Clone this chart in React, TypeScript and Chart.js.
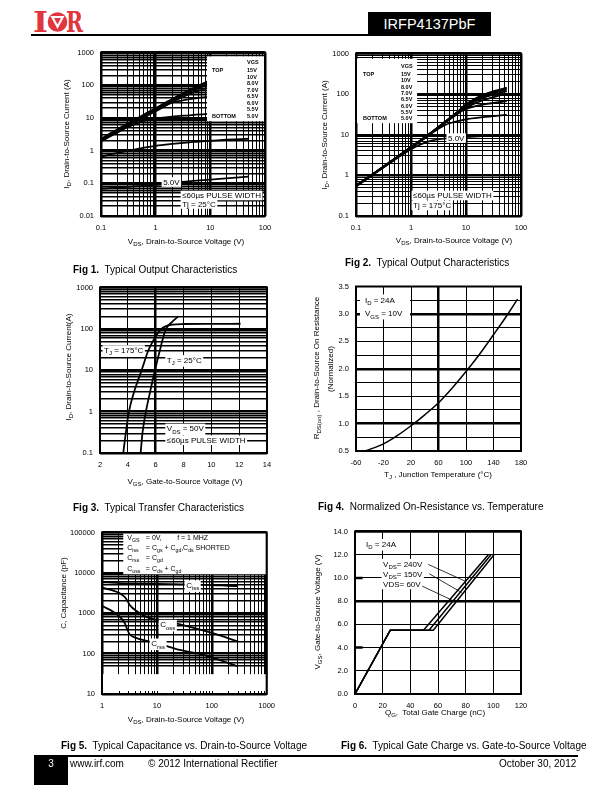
import React, { useEffect, useRef } from 'react';
import { Chart, registerables } from 'chart.js';

Chart.register(...registerables);

const FONT = "'Liberation Sans', Arial, Helvetica, sans-serif";
const RED = '#e2363f';

// ---------------- Fig 1 : Typical Output Characteristics, Tj = 25°C ----------------
const fig1XLabels = ['0.1', '1', '10', '100'];
const fig1YLabels = ['0.01', '0.1', '1', '10', '100', '1000'];
const vgsLabels = ['15V', '10V', '8.0V', '7.0V', '6.5V', '6.0V', '5.5V', '5.0V'];
const fig1_15V = [[0.1, 2.3], [0.2, 4.5], [0.5, 10.5], [1, 20], [2, 38], [4, 70], [8, 120], [20, 250], [50, 450]];
const fig1_10V = [[0.1, 2.2], [0.2, 4.3], [0.5, 10], [1, 19], [2, 36], [4, 66], [8, 110], [20, 210], [50, 350]];
const fig1_8V = [[0.1, 2.1], [0.2, 4.1], [0.5, 9.5], [1, 18], [2, 34], [4, 60], [8, 97], [20, 160], [50, 230]];
const fig1_7V = [[0.1, 2.0], [0.2, 3.9], [0.5, 9.0], [1, 17], [2, 31], [4, 52], [8, 78], [20, 105], [50, 125]];
const fig1_6V5 = [[0.1, 1.95], [0.2, 3.8], [0.5, 8.7], [1, 16], [2, 29], [3, 34], [5, 39], [8, 43], [20, 48], [50, 52]];
const fig1_6V = [[0.1, 1.9], [0.2, 3.6], [0.3, 5.1], [0.5, 7.3], [0.7, 8.6], [1, 9.6], [2, 11], [4, 12], [8, 13], [20, 14], [50, 15]];
const fig1_5V5 = [[0.1, 0.66], [0.2, 0.85], [0.5, 1.15], [1, 1.4], [2, 1.6], [5, 1.85], [10, 2.0], [20, 2.15], [50, 2.3]];
const fig1_5V = [[0.1, 0.068], [0.3, 0.078], [1, 0.09], [3, 0.11], [10, 0.13], [30, 0.15], [50, 0.16]];

// ---------------- Fig 2 : Typical Output Characteristics, Tj = 175°C ----------------
const fig2XLabels = ['0.1', '1', '10', '100'];
const fig2YLabels = ['0.1', '1', '10', '100', '1000'];
const fig2_15V = [[0.1, 0.56], [0.2, 1.07], [0.5, 2.55], [1, 5.0], [2, 9.7], [4, 20], [7, 37], [10, 56], [20, 96], [55, 145]];
const fig2_10V = [[0.1, 0.56], [0.2, 1.07], [0.5, 2.55], [1, 5.0], [2, 9.7], [4, 20], [7, 36], [10, 55], [20, 92], [55, 138]];
const fig2_8V = [[0.1, 0.55], [0.2, 1.06], [0.5, 2.5], [1, 4.9], [2, 9.6], [4, 19.8], [7, 35], [10, 53], [20, 87], [55, 130]];
const fig2_7V = [[0.1, 0.55], [0.2, 1.05], [0.5, 2.5], [1, 4.9], [2, 9.5], [4, 19.5], [7, 34], [10, 50], [20, 80], [55, 120]];
const fig2_6V5 = [[0.1, 0.55], [0.2, 1.05], [0.5, 2.5], [1, 4.9], [2, 9.5], [4, 19.3], [7, 33], [10, 46], [20, 70], [55, 105]];
const fig2_6V = [[0.1, 0.54], [0.2, 1.04], [0.5, 2.5], [1, 4.8], [2, 9.4], [4, 19], [6, 28], [8, 37], [10, 43], [20, 55], [55, 67]];
const fig2_5V5 = [[0.1, 0.54], [0.2, 1.04], [0.5, 2.45], [1, 4.7], [2, 9.2], [3, 13.5], [4, 17], [6, 20.5], [10, 24], [20, 27], [55, 31]];
const fig2_5V = [[0.1, 0.53], [0.2, 1.02], [0.5, 2.4], [1, 4.4], [1.5, 5.8], [2.2, 7], [4, 8], [10, 8.7], [20, 9.2], [55, 9.8]];

// ---------------- Fig 3 : Typical Transfer Characteristics ----------------
const fig3XLabels = ['2', '4', '6', '8', '10', '12', '14'];
const fig3YLabels = ['0.1', '1', '10', '100', '1000'];
const fig3_Tj175 = [[3.67, 0.1], [3.85, 0.3], [4.08, 1], [4.45, 3], [4.99, 10], [5.47, 30], [5.8, 50], [6.05, 70], [6.35, 95], [6.7, 115], [7.2, 127], [8, 131], [10, 132], [12.1, 133]];
const fig3_Tj25 = [[4.92, 0.1], [5.05, 0.3], [5.3, 1], [5.6, 3], [5.95, 10], [6.3, 30], [6.5, 55], [6.74, 100], [7.2, 150], [7.62, 200]];

// ---------------- Fig 4 : Normalized On-Resistance vs. Temperature ----------------
const fig4XLabels = ['-60', '-20', '20', '60', '100', '140', '180'];
const fig4YLabels = ['0.5', '1.0', '1.5', '2.0', '2.5', '3.0', '3.5'];
const fig4Temp = [-47, -40, -20, 0, 20, 40, 60, 80, 100, 120, 140, 160, 175];
const fig4Rds = [0.5, 0.53, 0.63, 0.78, 0.96, 1.16, 1.38, 1.65, 1.95, 2.27, 2.62, 2.98, 3.27];

// ---------------- Fig 5 : Typical Capacitance vs. VDS ----------------
const fig5XLabels = ['1', '10', '100', '1000'];
const fig5YLabels = ['10', '100', '1000', '10000', '100000'];
const fig5Ciss = [[1, 5900], [2, 5600], [5, 5400], [10, 5300], [30, 5200], [100, 5000], [200, 4800], [300, 4700]];
const fig5Coss = [[1, 4300], [2, 3250], [2.65, 2450], [3.27, 1540], [4.33, 1120], [6.6, 800], [11.5, 660], [26.5, 530], [100, 325], [300, 200]];
const fig5Crss = [[1, 1540], [2, 877], [2.55, 600], [2.85, 415], [3.18, 302], [4.04, 250], [6.6, 207], [11.5, 172], [26.5, 123], [61, 98], [100, 81], [300, 48]];

// ---------------- Fig 6 : Typical Gate Charge ----------------
const fig6XLabels = ['0', '20', '40', '60', '80', '100', '120'];
const fig6YLabels = ['0.0', '2.0', '4.0', '6.0', '8.0', '10.0', '12.0', '14.0'];
const fig6_60V = [[0, 0], [25.5, 5.5], [49.5, 5.5], [96.4, 12]];
const fig6_150V = [[0, 0], [25.5, 5.5], [53.5, 5.5], [98.3, 12]];
const fig6_240V = [[0, 0], [25.5, 5.5], [56.6, 5.5], [100.5, 12]];

// ---------------- layout ----------------
const Y_W = 45;
const X_H = 22;
const PAD_T = 10;
const PAD_R = 15;
const P1 = { l: 101, t: 51, r: 265, b: 216 };
const P2 = { l: 356, t: 52, r: 521, b: 216 };
const P3 = { l: 100, t: 286, r: 267, b: 453 };
const P4 = { l: 356, t: 285, r: 521, b: 451 };
const P5 = { l: 102, t: 531, r: 267, b: 694 };
const P6 = { l: 355, t: 530, r: 521, b: 694 };

// ---------------- helpers ----------------
function parseRich(s: string) {
  const out: { t: string; sub: boolean; w?: number }[] = [];
  const re = /_\{([^}]*)\}/g;
  let last = 0;
  let m: RegExpExecArray | null;
  while ((m = re.exec(s))) {
    if (m.index > last) out.push({ t: s.slice(last, m.index), sub: false });
    out.push({ t: m[1], sub: true });
    last = re.lastIndex;
  }
  if (last < s.length) out.push({ t: s.slice(last), sub: false });
  return out;
}

function Rich({ s }: { s: string }) {
  return (
    <>
      {parseRich(s).map((seg, i) =>
        seg.sub ? (
          <span key={i} style={{ fontSize: '0.75em', position: 'relative', top: '0.3em' }}>{seg.t}</span>
        ) : (
          <span key={i}>{seg.t}</span>
        )
      )}
    </>
  );
}

function drawRich(ctx: CanvasRenderingContext2D, s: string, x: number, y: number, size: number, bold: boolean, align: string, bg: boolean) {
  const segs = parseRich(s);
  const fontOf = (sub: boolean) => `${bold ? 'bold ' : ''}${sub ? size * 0.75 : size}px ${FONT}`;
  let w = 0;
  for (const seg of segs) {
    ctx.font = fontOf(seg.sub);
    seg.w = ctx.measureText(seg.t).width;
    w += seg.w;
  }
  const x0 = align === 'center' ? x - w / 2 : align === 'right' ? x - w : x;
  const hasSub = segs.some((g) => g.sub);
  if (bg) {
    ctx.fillStyle = '#fff';
    ctx.fillRect(x0 - 1.5, y - size * 0.6, w + 3, size * (hasSub ? 1.45 : 1.2));
  }
  ctx.fillStyle = '#000';
  ctx.textBaseline = 'alphabetic';
  ctx.textAlign = 'left';
  const base = y + size * 0.36;
  let cx = x0;
  for (const seg of segs) {
    ctx.font = fontOf(seg.sub);
    ctx.fillText(seg.t, cx, base + (seg.sub ? size * 0.3 : 0));
    cx += seg.w || 0;
  }
}

function drawItems(chart: any, items: any[]) {
  const ctx: CanvasRenderingContext2D = chart.ctx;
  const xs = chart.scales.x;
  const ys = chart.scales.y;
  const a = chart.chartArea;
  const px = (v: number) => xs.getPixelForValue(v);
  const py = (v: number) => ys.getPixelForValue(v);
  ctx.save();
  ctx.beginPath();
  ctx.rect(a.left, a.top, a.right - a.left, a.bottom - a.top);
  ctx.clip();
  for (const it of items) {
    if (it.kind === 'box') {
      const x0 = px(it.x0), x1 = px(it.x1), y0 = py(it.y0), y1 = py(it.y1);
      ctx.fillStyle = '#fff';
      ctx.fillRect(Math.min(x0, x1), Math.min(y0, y1), Math.abs(x1 - x0), Math.abs(y1 - y0));
    } else if (it.kind === 'line') {
      ctx.strokeStyle = '#000';
      ctx.lineWidth = it.w ?? 1;
      ctx.beginPath();
      ctx.moveTo(px(it.x0), py(it.y0));
      ctx.lineTo(px(it.x1), py(it.y1));
      ctx.stroke();
    } else if (it.kind === 'text') {
      drawRich(ctx, it.text, px(it.x) + (it.dx || 0), py(it.y) + (it.dy || 0), it.size ?? 8, !!it.bold, it.align ?? 'left', !!it.bg);
    } else if (it.kind === 'vticks') {
      ctx.strokeStyle = '#000';
      ctx.lineWidth = 1;
      for (const v of it.xs) {
        const x = Math.round(px(v)) + 0.5;
        ctx.beginPath();
        ctx.moveTo(x, a.bottom);
        ctx.lineTo(x, a.bottom - it.len);
        ctx.stroke();
      }
    }
  }
  ctx.restore();
}

function annotPlugin(items: any[], under: any[] = []) {
  return {
    id: 'annot',
    beforeDatasetsDraw(chart: any) {
      drawItems(chart, under);
    },
    afterDatasetsDraw(chart: any) {
      drawItems(chart, items);
      const a = chart.chartArea;
      const ctx = chart.ctx;
      ctx.save();
      ctx.strokeStyle = '#000';
      ctx.lineWidth = 2;
      ctx.strokeRect(a.left, a.top, a.right - a.left, a.bottom - a.top);
      ctx.restore();
    },
  };
}

function logTicks(lo: number, hi: number) {
  const out: number[] = [];
  for (let e = lo; e < hi; e++) for (let d = 1; d <= 9; d++) out.push(Number((d * Math.pow(10, e)).toPrecision(4)));
  out.push(Number(Math.pow(10, hi).toPrecision(4)));
  return out;
}
function stepTicks(min: number, max: number, step: number) {
  const out: number[] = [];
  const n = Math.round((max - min) / step);
  for (let i = 0; i <= n; i++) out.push(Number((min + i * step).toFixed(6)));
  return out;
}
const isDecade = (v: number) => Math.abs(Math.log10(v) - Math.round(Math.log10(v))) < 1e-6;
const labelFrom = (labels: string[]) => (v: number) => {
  const hit = labels.find((l) => Math.abs(Number(l) - v) <= 1e-6 * Math.max(1, Math.abs(v)));
  return hit ?? '';
};
const pts = (arr: number[][]) => arr.map(([x, y]) => ({ x, y }));

function axis(o: any) {
  const thin = o.thin ?? 1;
  return {
    type: o.type,
    min: o.min,
    max: o.max,
    afterBuildTicks: (s: any) => {
      s.ticks = o.ticks.map((v: number) => ({ value: v }));
    },
    afterFit: (s: any) => {
      if (o.horizontal) s.height = X_H;
      else s.width = Y_W;
    },
    grid: {
      drawTicks: false,
      color: (c: any) => (c.tick && o.hide && o.hide(c.tick.value) ? 'rgba(0,0,0,0)' : '#000'),
      lineWidth: (c: any) => (c.tick && o.thick(c.tick.value) ? 2.5 : thin),
    },
    border: { display: false },
    ticks: {
      autoSkip: false,
      maxRotation: 0,
      minRotation: 0,
      padding: 7,
      color: '#000',
      font: { family: FONT, size: 7.5 },
      callback: (v: number) => o.label(v),
    },
  };
}

function makeConfig(datasets: any[], x: any, y: any, items: any[], under: any[] = []) {
  return {
    type: 'line',
    data: { datasets },
    options: {
      animation: false,
      responsive: false,
      maintainAspectRatio: false,
      devicePixelRatio: 1,
      events: [],
      layout: { padding: { left: 0, top: PAD_T, right: PAD_R, bottom: 0 } },
      plugins: { legend: { display: false }, tooltip: { enabled: false }, title: { display: false } },
      elements: { point: { radius: 0 } },
      scales: { x: axis({ ...x, horizontal: true }), y: axis({ ...y, horizontal: false }) },
    },
    plugins: [annotPlugin(items, under)],
  } as any;
}

const line = (label: string, data: number[][], w = 1.8, smooth = true) => ({
  label,
  data: pts(data),
  borderColor: '#000',
  borderWidth: w,
  pointRadius: 0,
  fill: false,
  cubicInterpolationMode: smooth ? 'monotone' : 'default',
  tension: 0,
});

function legendItems(ax: number, ay: number, dxL: number, dxV: number, dyHead: number, dy0: number, step: number) {
  const out: any[] = [{ kind: 'text', x: ax, y: ay, dx: dxV, dy: dyHead, text: 'VGS', size: 5.5, bold: true }];
  out.push({ kind: 'text', x: ax, y: ay, dx: dxL, dy: dy0, text: 'TOP', size: 5.5, bold: true });
  vgsLabels.forEach((l, i) => out.push({ kind: 'text', x: ax, y: ay, dx: dxV, dy: dy0 + i * step, text: l, size: 5.5, bold: true }));
  out.push({ kind: 'text', x: ax, y: ay, dx: dxL, dy: dy0 + 7 * step, text: 'BOTTOM', size: 5.5, bold: true });
  return out;
}

// ---------------- chart builders ----------------
const buildFig1 = () =>
  makeConfig(
    [fig1_15V, fig1_10V, fig1_8V, fig1_7V, fig1_6V5, fig1_6V, fig1_5V5, fig1_5V].map((d, i) => line(vgsLabels[i], d, 1.8)),
    { type: 'logarithmic', min: 0.1, max: 100, ticks: logTicks(-1, 2), label: labelFrom(fig1XLabels), thick: isDecade },
    { type: 'logarithmic', min: 0.01, max: 1000, ticks: logTicks(-2, 3), label: labelFrom(fig1YLabels), thick: isDecade, thin: 1.5 },
    [
      { kind: 'box', x0: 8.7, y0: 760, x1: 100, y1: 7.94 },
      ...legendItems(8.7, 760, 5, 40, 6, 13.7, 6.53),
      { kind: 'text', x: 1.37, y: 0.109, text: '5.0V', size: 8, bg: true },
      { kind: 'text', x: 3.05, y: 0.0424, text: '≤60µs PULSE WIDTH', size: 8, bg: true },
      { kind: 'text', x: 3.05, y: 0.0234, text: 'Tj = 25°C', size: 8, bg: true },
    ]
  );

const buildFig2 = () =>
  makeConfig(
    [fig2_15V, fig2_10V, fig2_8V, fig2_7V, fig2_6V5, fig2_6V, fig2_5V5, fig2_5V].map((d, i) => line(vgsLabels[i], d, 1.8)),
    { type: 'logarithmic', min: 0.1, max: 100, ticks: logTicks(-1, 2), label: labelFrom(fig2XLabels), thick: isDecade },
    { type: 'logarithmic', min: 0.1, max: 1000, ticks: logTicks(-1, 3), label: labelFrom(fig2YLabels), thick: isDecade },
    [
      { kind: 'box', x0: 0.1, y0: 742, x1: 1.29, y1: 19.3 },
      ...legendItems(0.1087, 742, 5, 43, 7, 15.3, 6.35),
      { kind: 'text', x: 4.7, y: 8.3, text: '5.0V', size: 8, bg: true },
      { kind: 'text', x: 1.09, y: 0.32, text: '≤60µs PULSE WIDTH', size: 8, bg: true },
      { kind: 'text', x: 1.09, y: 0.182, text: 'Tj = 175°C', size: 8, bg: true },
    ]
  );

const buildFig3 = () =>
  makeConfig(
    [line('TJ = 175°C', fig3_Tj175, 1.8), line('TJ = 25°C', fig3_Tj25, 1.8)],
    { type: 'linear', min: 2, max: 14, ticks: stepTicks(2, 14, 2), label: labelFrom(fig3XLabels), thick: (v: number) => v === 6 },
    { type: 'logarithmic', min: 0.1, max: 1000, ticks: logTicks(-1, 3), label: labelFrom(fig3YLabels), thick: isDecade, thin: 1.5 },
    [
      { kind: 'text', x: 2.29, y: 30.8, text: 'T_{J} = 175°C', size: 8, bg: true },
      { kind: 'text', x: 6.8, y: 17.8, text: 'T_{J} = 25°C', size: 8, bg: true },
      { kind: 'text', x: 6.8, y: 0.393, text: 'V_{DS} = 50V', size: 8, bg: true },
      { kind: 'text', x: 6.8, y: 0.203, text: '≤60µs PULSE WIDTH', size: 8, bg: true },
    ]
  );

const buildFig4 = () =>
  makeConfig(
    [line('RDS(on)', fig4Temp.map((t, i) => [t, fig4Rds[i]]), 1.5)],
    { type: 'linear', min: -60, max: 180, ticks: stepTicks(-60, 180, 40), label: labelFrom(fig4XLabels), thick: (v: number) => v === 60 },
    { type: 'linear', min: 0.5, max: 3.5, ticks: stepTicks(0.5, 3.5, 0.25), label: labelFrom(fig4YLabels), thick: (v: number) => Math.abs(v - Math.round(v)) < 1e-6 },
    [
      { kind: 'box', x0: -54.2, y0: 3.355, x1: 18.7, y1: 2.9 },
      { kind: 'text', x: -47, y: 3.25, text: 'I_{D} = 24A', size: 8 },
      { kind: 'text', x: -47, y: 3.01, text: 'V_{GS} = 10V', size: 8 },
    ]
  );

const buildFig5 = () =>
  makeConfig(
    [line('Ciss', fig5Ciss, 1.8), line('Coss', fig5Coss, 1.8), line('Crss', fig5Crss, 1.8)],
    { type: 'logarithmic', min: 1, max: 1000, ticks: logTicks(0, 3), label: labelFrom(fig5XLabels), thick: isDecade },
    {
      type: 'logarithmic', min: 10, max: 100000, ticks: logTicks(1, 5), label: labelFrom(fig5YLabels), thick: isDecade, thin: 1.5,
      hide: (v: number) => v > 10 && v < 50,
    },
    [
      { kind: 'box', x0: 2.44, y0: 100000, x1: 1000, y1: 9250 },
      { kind: 'text', x: 2.88, y: 76300, text: 'V_{GS}', size: 7 },
      { kind: 'text', x: 6.3, y: 76300, text: '= 0V,', size: 7 },
      { kind: 'text', x: 23.4, y: 76300, text: 'f = 1 MHZ', size: 7 },
      { kind: 'text', x: 2.88, y: 43500, text: 'C_{iss}', size: 7 },
      { kind: 'text', x: 6.3, y: 43500, text: '= C_{gs} + C_{gd},', size: 7 },
      { kind: 'text', x: 30, y: 43500, text: 'C_{ds} SHORTED', size: 7 },
      { kind: 'text', x: 2.88, y: 24000, text: 'C_{rss}', size: 7 },
      { kind: 'text', x: 6.3, y: 24000, text: '= C_{gd}', size: 7 },
      { kind: 'text', x: 2.88, y: 12950, text: 'C_{oss}', size: 7 },
      { kind: 'text', x: 6.3, y: 12950, text: '= C_{ds} + C_{gd}', size: 7 },
      { kind: 'text', x: 34.1, y: 4970, text: 'C_{iss}', size: 8, bg: true },
      { kind: 'text', x: 11.5, y: 524, text: 'C_{oss}', size: 8, bg: true },
      { kind: 'text', x: 7.9, y: 180, text: 'C_{rss}', size: 8, bg: true },
    ],
    [
      { kind: 'box', x0: 1, y0: 31, x1: 1000, y1: 10 },
      { kind: 'vticks', xs: logTicks(0, 3).filter((v) => v > 1 && v < 1000), len: 3 },
    ]
  );

const buildFig6 = () =>
  makeConfig(
    [line('VDS= 60V', fig6_60V, 1.5, false), line('VDS= 150V', fig6_150V, 1.5, false), line('VDS= 240V', fig6_240V, 1.5, false)],
    { type: 'linear', min: 0, max: 120, ticks: stepTicks(0, 120, 20), label: labelFrom(fig6XLabels), thick: () => false },
    { type: 'linear', min: 0, max: 14, ticks: stepTicks(0, 14, 2), label: labelFrom(fig6YLabels), thick: (v: number) => v === 8 || v === 14 },
    [
      { kind: 'line', x0: 0, y0: 10, x1: 5.5, y1: 10, w: 2.5 },
      { kind: 'line', x0: 0, y0: 4, x1: 5.5, y1: 4, w: 2.5 },
      { kind: 'text', x: 8, y: 12.94, text: 'I_{D} = 24A', size: 8, bg: true },
      { kind: 'line', x0: 53, y0: 11.16, x1: 79.5, y1: 9.73, w: 0.8 },
      { kind: 'line', x0: 53.7, y0: 10.36, x1: 77.1, y1: 8.74, w: 0.8 },
      { kind: 'line', x0: 45.8, y0: 9.45, x1: 71.1, y1: 8.03, w: 0.8 },
      { kind: 'text', x: 20.3, y: 11.23, text: 'V_{DS}= 240V', size: 8, bg: true },
      { kind: 'text', x: 20.3, y: 10.33, text: 'V_{DS}= 150V', size: 8, bg: true },
      { kind: 'text', x: 20.3, y: 9.44, text: 'VDS= 60V', size: 8, bg: true },
    ]
  );

// ---------------- components ----------------
function ChartBox({ plot, build }: { plot: any; build: () => any }) {
  const ref = useRef<HTMLCanvasElement | null>(null);
  const W = plot.r - plot.l + Y_W + PAD_R;
  const H = plot.b - plot.t + PAD_T + X_H;
  useEffect(() => {
    const c = new Chart(ref.current as HTMLCanvasElement, build());
    return () => c.destroy();
  }, []);
  return (
    <canvas
      ref={ref}
      width={W}
      height={H}
      style={{ position: 'absolute', left: plot.l - Y_W, top: plot.t - PAD_T, width: W, height: H }}
    />
  );
}

function T({ x, y, size = 8, s, align = 'left', rotate = false, bold = false, color = '#000' }: any) {
  const base: any = {
    position: 'absolute',
    top: y - size / 2,
    height: size,
    fontSize: size,
    lineHeight: 1,
    whiteSpace: 'pre',
    fontWeight: bold ? 'bold' : 'normal',
    color,
    willChange: 'transform',
  };
  if (rotate) {
    return (
      <div style={{ ...base, left: x - 150, width: 300, textAlign: 'center', transform: 'rotate(-90deg)', transformOrigin: '50% 50%' }}>
        <Rich s={s} />
      </div>
    );
  }
  if (align === 'center') return <div style={{ ...base, left: x - 150, width: 300, textAlign: 'center' }}><Rich s={s} /></div>;
  if (align === 'right') return <div style={{ ...base, right: 612 - x, textAlign: 'right' }}><Rich s={s} /></div>;
  return <div style={{ ...base, left: x }}><Rich s={s} /></div>;
}

function Caption({ x, y, n, s }: any) {
  return (
    <div style={{ position: 'absolute', left: x, top: y - 5, height: 10, fontSize: 10, lineHeight: 1, whiteSpace: 'pre', willChange: 'transform' }}>
      <b>{`Fig ${n}.`}</b>
      {`  ${s}`}
    </div>
  );
}

export default function App() {
  return (
    <div style={{ position: 'absolute', left: 0, top: 0, width: 612, height: 792, background: '#fff', fontFamily: FONT, color: '#000', overflow: 'hidden' }}>
      {/* header */}
      <svg width={612} height={40} style={{ position: 'absolute', left: 0, top: 0 }}>
        <text x={33} y={32} fontFamily="'DejaVu Serif', serif" fontWeight="bold" fontSize={27} fill={RED} textLength={15} lengthAdjust="spacingAndGlyphs">I</text>
        <circle cx={57.5} cy={22} r={9.8} fill={RED} />
        <polygon points="50.5,16 64.5,16 57.5,29" fill="#fff" />
        <polygon points="54,18 61,18 57.5,24.5" fill={RED} />
        <text x={66} y={32} fontFamily="'DejaVu Serif', serif" fontWeight="bold" fontSize={27} fill={RED} textLength={17} lengthAdjust="spacingAndGlyphs">R</text>
      </svg>
      <div style={{ position: 'absolute', left: 31, top: 34, width: 337, height: 2, background: '#000' }} />
      <div style={{ position: 'absolute', left: 368, top: 12, width: 123, height: 24, background: '#000', color: '#fff', fontSize: 14.5, lineHeight: '24px', textAlign: 'center' }}>
        IRFP4137PbF
      </div>

      {/* charts */}
      <ChartBox plot={P1} build={buildFig1} />
      <ChartBox plot={P2} build={buildFig2} />
      <ChartBox plot={P3} build={buildFig3} />
      <ChartBox plot={P4} build={buildFig4} />
      <ChartBox plot={P5} build={buildFig5} />
      <ChartBox plot={P6} build={buildFig6} />

      {/* axis titles */}
      <T x={186} y={241.7} s="V_{DS}, Drain-to-Source Voltage (V)" align="center" />
      <T x={66.5} y={133.5} s="I_{D}, Drain-to-Source Current (A)" rotate />
      <T x={453.5} y={240.5} s="V_{DS}, Drain-to-Source Voltage (V)" align="center" />
      <T x={325} y={135} s="I_{D}, Drain-to-Source Current (A)" rotate />
      <T x={185} y={481.7} s="V_{GS}, Gate-to-Source Voltage (V)" align="center" />
      <T x={68.5} y={367} s="I_{D}, Drain-to-Source Current(A)" rotate />
      <T x={438} y={475} s="T_{J} , Junction Temperature (°C)" align="center" />
      <T x={316.7} y={368} s="R_{DS(on)} , Drain-to-Source On Resistance" rotate />
      <T x={330.5} y={368.5} s="(Normalized)" rotate />
      <T x={186} y={720} s="V_{DS}, Drain-to-Source Voltage (V)" align="center" />
      <T x={63.5} y={593} s="C, Capacitance (pF)" rotate />
      <T x={435} y={712.7} s="Q_{G},  Total Gate Charge (nC)" align="center" />
      <T x={318.3} y={611.7} s="V_{GS}, Gate-to-Source Voltage (V)" rotate />

      {/* captions */}
      <Caption x={73} y={270} n={1} s="Typical Output Characteristics" />
      <Caption x={345} y={263} n={2} s="Typical Output Characteristics" />
      <Caption x={73} y={508} n={3} s="Typical Transfer Characteristics" />
      <Caption x={318} y={507} n={4} s="Normalized On-Resistance vs. Temperature" />
      <Caption x={61} y={746} n={5} s="Typical Capacitance vs. Drain-to-Source Voltage" />
      <Caption x={341} y={746} n={6} s="Typical Gate Charge vs. Gate-to-Source Voltage" />

      {/* footer */}
      <div style={{ position: 'absolute', left: 34, top: 755, width: 544, height: 2, background: '#000' }} />
      <div style={{ position: 'absolute', left: 34, top: 757, width: 34, height: 28, background: '#000' }} />
      <T x={51} y={763.7} size={10} s="3" align="center" color="#fff" />
      <T x={70} y={763.7} size={10} s="www.irf.com" />
      <T x={148} y={763.7} size={10} s="© 2012 International Rectifier" />
      <T x={576} y={763.7} size={10} s="October 30, 2012" align="right" />
    </div>
  );
}
